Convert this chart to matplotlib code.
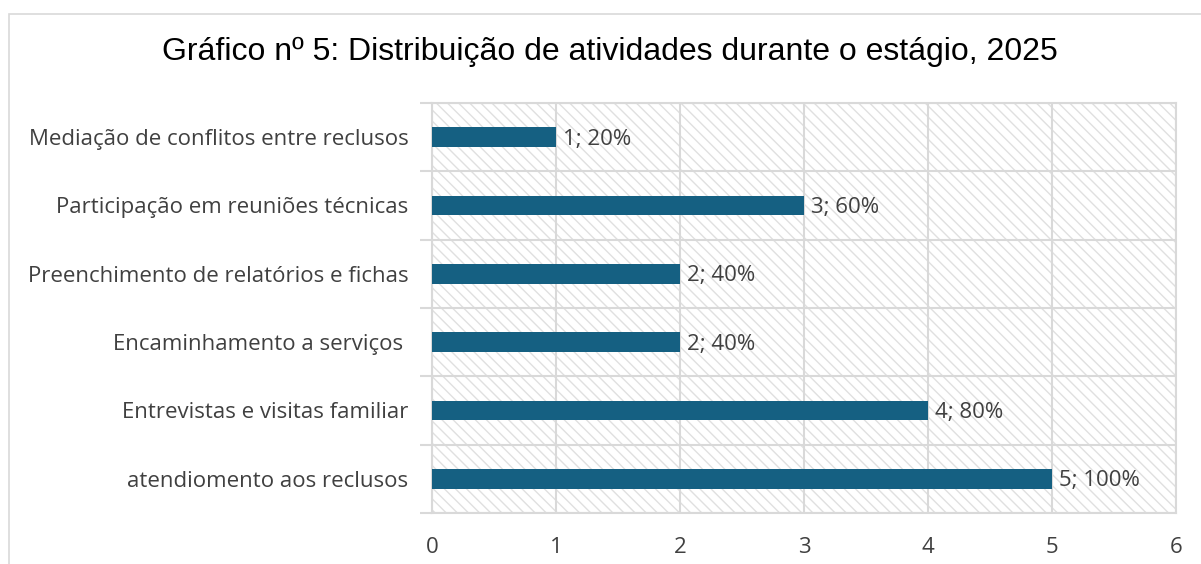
import numpy as np
import matplotlib.pyplot as plt
from matplotlib.patches import Rectangle

# dados do gráfico
atividades = ["atendiomento aos reclusos", "Entrevistas e visitas familiar",
              "Encaminhamento a serviços ", "Preenchimento de relatórios e fichas",
              "Participação em reuniões técnicas", "Mediação de conflitos entre reclusos"]
valores = [5, 4, 2, 2, 3, 1]
percentagens = ["100%", "80%", "40%", "40%", "60%", "20%"]

plt.rcParams['hatch.linewidth'] = 1.0
fonte = 'Open Sans'
cinza = '#404040'

fig = plt.figure(figsize=(12.01, 5.64), dpi=100)
ax = fig.add_axes([432 / 1201, 1 - 513 / 564, 744 / 1201, 410 / 564])

# moldura do gráfico
fig.patches.append(Rectangle((9 / 1201, -0.1), 1.2, 1 - 14 / 564 + 0.1,
                             transform=fig.transFigure, fill=False,
                             edgecolor='#d9d9d9', linewidth=1.2))

# fundo tracejado
ax.add_patch(Rectangle((0, -0.5), 6, 6, facecolor='white', edgecolor='#e0e0e0',
                       linewidth=0, hatch='\\\\\\', zorder=0))

y = np.arange(len(atividades))
ax.barh(y, valores, height=0.29, color='#156082', zorder=3)
for yi, v, p in zip(y, valores, percentagens):
    ax.text(v + 0.06, yi - 0.03, f"{v}; {p}", va='center', ha='left',
            fontsize=16, color=cinza, family=fonte, zorder=4)

ax.set_xlim(0, 6)
ax.set_ylim(-0.5, 5.5)
ax.set_xticks(range(7))
ax.set_yticks(y)
ax.set_yticklabels(atividades)
ax.set_yticks(np.arange(-0.5, 6, 1), minor=True)
ax.tick_params(axis='y', which='major', length=0, pad=17, labelsize=16,
               labelcolor=cinza)
ax.tick_params(axis='y', which='minor', length=9, color='#d9d9d9', width=1.5)
ax.tick_params(axis='x', length=0, pad=17, labelsize=16, labelcolor=cinza)
for lab in ax.get_xticklabels() + ax.get_yticklabels():
    lab.set_family(fonte)

ax.grid(axis='x', color='#d9d9d9', linewidth=1.5, zorder=1)
ax.grid(axis='y', which='minor', color='#d9d9d9', linewidth=1.5, zorder=1)
ax.set_axisbelow(True)
for s in ax.spines.values():
    s.set_color('#d9d9d9')
    s.set_linewidth(1.5)

fig.text(610 / 1201, 1 - 52 / 564, "Gráfico nº 5: Distribuição de atividades durante o estágio, 2025",
         ha='center', va='center', fontsize=23, family='Liberation Sans', color='black')

fig.savefig("out.png", dpi=100)
